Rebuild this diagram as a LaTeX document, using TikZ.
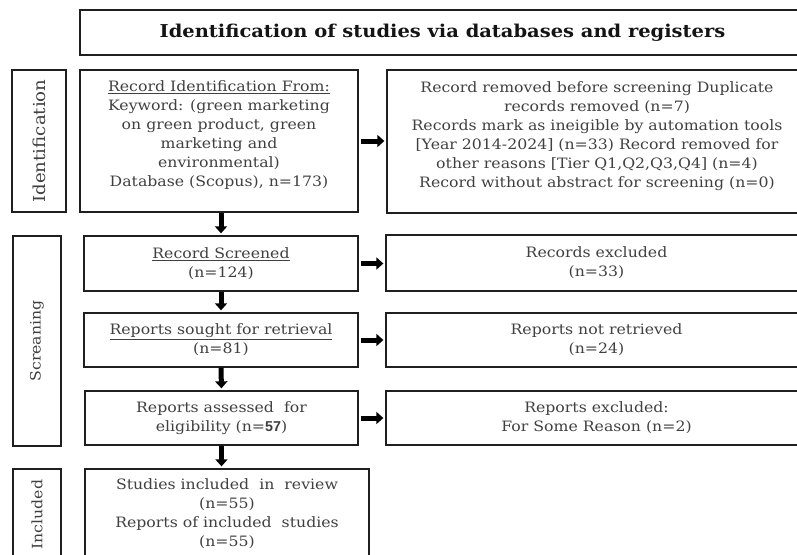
\documentclass[tikz,border=0pt]{standalone}
\usepackage{fontspec}
\setmainfont{DejaVu Serif}[FakeStretch=1.1]
\newfontfamily\numsans{Liberation Sans}
\usetikzlibrary{arrows.meta}
\begin{document}
\begin{tikzpicture}[x=1pt,y=-1pt,
  box/.style={draw=black!88,line width=1.3pt,inner sep=0pt,align=center,
    text=black!75,font=\fontsize{14.3}{19}\selectfont},
  lbl/.style={box,rotate=90},
  arr/.style={line width=5pt,-{Triangle[length=7pt,width=12pt]}},
]
\useasboundingbox (0,0) rectangle (797,554);
\node[box,minimum width=725pt,minimum height=45pt,text=black!92,
  font=\bfseries\fontsize{17.7}{20}\selectfont] (title) at (442.5,32.5)
  {Identification of studies via databases and registers};
\node[lbl,minimum width=142pt,minimum height=54pt,font=\fontsize{16.5}{19}\selectfont] (idl) at (39,141) {Identification};
\node[lbl,minimum width=210pt,minimum height=48pt] (scl) at (37,341) {Screaning};
\node[lbl,minimum width=91pt,minimum height=48pt] (inl) at (37,514.5) {Included};
\node[box,minimum width=278pt,minimum height=142pt] (b1) at (219,141)
  {\underline{Record Identification From:}\\Keyword: (green marketing\\on green product, green\\marketing and\\environmental)\\Database (Scopus), n=173)\\[-5pt]\mbox{}};
\node[box,minimum width=420pt,minimum height=143pt] (r1) at (597,141.5)
  {Record removed before screening Duplicate\\records removed (n=7)\\Records mark as ineigible by automation tools\\{[Year 2014-2024]} (n=33) Record removed for\\other reasons [Tier Q1,Q2,Q3,Q4] (n=4)\\Record without abstract for screening (n=0)\\[-5pt]\mbox{}};
\node[box,minimum width=274pt,minimum height=55pt] (b2) at (221,263.5)
  {\underline{Record Screened}\\(n=124)};
\node[box,minimum width=421pt,minimum height=56pt] (r2) at (596.5,263)
  {Records excluded\\(n=33)};
\node[box,minimum width=274pt,minimum height=54pt] (b3) at (221,340)
  {\underline{Reports sought for retrieval}\\(n=81)};
\node[box,minimum width=421pt,minimum height=54pt] (r3) at (596.5,340)
  {Reports not retrieved\\(n=24)};
\node[box,minimum width=273pt,minimum height=54pt] (b4) at (221.5,418)
  {Reports assessed\ \ for\\eligibility\ (n={\numsans\bfseries 57})};
\node[box,minimum width=421pt,minimum height=54pt] (r4) at (596.5,418)
  {Reports excluded:\\For Some Reason (n=2)};
\node[box,minimum width=284pt,minimum height=89pt] (b5) at (227,513.5)
  {Studies included\ \ in\ \ review\\(n=55)\\Reports of included\ \ studies\\(n=55)};
\draw[arr,shorten >=2pt] (b1.south -| b2.north) -- (b2.north);
\draw[arr,shorten >=2pt] (b2.south) -- (b3.north);
\draw[arr,shorten >=2pt] (b3.south) -- (b4.north);
\draw[arr,shorten >=2pt] (b4.south) -- (b4.south |- b5.north);
\foreach \a/\b in {b1/r1,b2/r2,b3/r3,b4/r4}
  \draw[arr,shorten <=2pt,shorten >=2pt] (\a.east) -- (\a.east -| \b.west);
\end{tikzpicture}
\end{document}
